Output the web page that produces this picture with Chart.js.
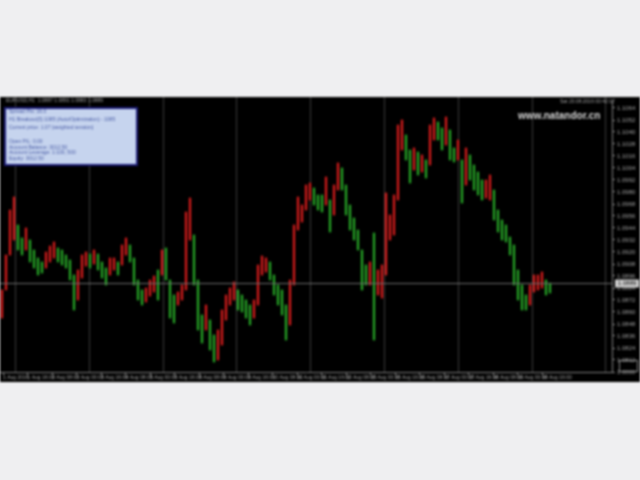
<!DOCTYPE html>
<html>
<head>
<meta charset="utf-8">
<script src="https://cdn.jsdelivr.net/npm/chart.js@4.4.1/dist/chart.umd.min.js"></script>
<style>
  html, body { margin: 0; padding: 0; background: #efeff1; }
  #wrap { position: absolute; left: 0; top: 97px; width: 640px; height: 285px; background: #000; filter: blur(0.9px); }
</style>
</head>
<body>
<div id="wrap"><canvas id="myChart"></canvas></div>
<script>
// candle ranges (EURUSD, H1)
const highs = [
  1.0882,1.0917,1.0962,1.0975,1.0947,1.0934,1.0944,1.0932,1.0922,1.0914,
  1.0910,1.0920,1.0926,1.0930,1.0924,1.0922,1.0917,1.0912,1.0897,1.0902,
  1.0917,1.0920,1.0918,1.0922,1.0918,1.0910,1.0904,1.0914,1.0914,1.0910,
  1.0927,1.0934,1.0927,1.0914,1.0892,1.0882,1.0884,1.0892,1.0896,1.0902,
  1.0922,1.0924,1.0892,1.0877,1.0880,1.0887,1.0960,1.0974,1.0937,1.0892,
  1.0857,1.0867,1.0852,1.0837,1.0842,1.0862,1.0877,1.0884,1.0890,1.0882,
  1.0877,1.0872,1.0867,1.0872,1.0907,1.0916,1.0914,1.0910,1.0897,1.0887,
  1.0882,1.0867,1.0892,1.0947,1.0975,1.0967,1.0987,1.0989,1.0984,1.0977,
  1.0977,1.0995,1.0972,1.0987,1.1009,1.1004,1.0987,1.0967,1.0954,1.0942,
  1.0922,1.0907,1.0910,1.0939,1.0902,1.0907,1.0979,1.0957,1.0977,1.1047,
  1.1052,1.1037,1.1022,1.1024,1.1020,1.1017,1.1012,1.1047,1.1054,1.1050,
  1.1044,1.1055,1.1042,1.1024,1.1032,1.1012,1.1024,1.1017,1.1007,1.1000,
  1.0992,1.0992,1.0997,1.0982,1.0962,1.0952,1.0947,1.0935,1.0927,1.0902,
  1.0887,1.0877,1.0887,1.0897,1.0897,1.0900,1.0892,1.0889
];
const lows = [
  1.0854,1.0882,1.0917,1.0932,1.0922,1.0917,1.0922,1.0910,1.0904,1.0897,
  1.0899,1.0904,1.0910,1.0914,1.0910,1.0907,1.0904,1.0892,1.0862,1.0872,
  1.0894,1.0906,1.0904,1.0908,1.0902,1.0894,1.0887,1.0897,1.0902,1.0897,
  1.0907,1.0917,1.0910,1.0887,1.0872,1.0867,1.0870,1.0876,1.0880,1.0872,
  1.0897,1.0892,1.0854,1.0849,1.0867,1.0872,1.0882,1.0932,1.0887,1.0842,
  1.0829,1.0842,1.0822,1.0810,1.0812,1.0827,1.0852,1.0867,1.0872,1.0862,
  1.0860,1.0854,1.0847,1.0854,1.0867,1.0897,1.0900,1.0892,1.0877,1.0867,
  1.0857,1.0832,1.0847,1.0887,1.0942,1.0950,1.0962,1.0972,1.0967,1.0962,
  1.0960,1.0967,1.0940,1.0957,1.0982,1.0982,1.0957,1.0942,1.0932,1.0922,
  1.0882,1.0887,1.0887,1.0832,1.0877,1.0874,1.0897,1.0932,1.0937,1.0972,
  1.1022,1.1012,1.0989,1.1002,1.0997,1.1000,1.0994,1.1007,1.1032,1.1032,
  1.1022,1.1027,1.1012,1.1010,1.1012,1.0969,1.0987,1.0992,1.0982,1.0977,
  1.0972,1.0974,1.0972,1.0952,1.0940,1.0932,1.0930,1.0917,1.0887,1.0872,
  1.0862,1.0862,1.0867,1.0880,1.0882,1.0884,1.0877,1.0879
];
const timeLabels = [
  '1 Aug 2016','1 Aug 16:00','2 Aug 08:00','3 Aug 00:00','3 Aug 16:00','4 Aug 08:00',
  '5 Aug 00:00','5 Aug 16:00','8 Aug 08:00','9 Aug 00:00','9 Aug 16:00','10 Aug 08:00',
  '11 Aug 00:00','11 Aug 16:00','12 Aug 08:00','15 Aug 00:00','15 Aug 16:00','16 Aug 08:00',
  '17 Aug 00:00','17 Aug 16:00','18 Aug 08:00','19 Aug 00:00','19 Aug 16:00'
];
const bidPrice = 1.0889;
const infoLines = [
  'Spread Pts: 16.0',
  'H1 Breakout(5) 1085 (Auto/Optimization) - 1085',
  'Current price: 1.07 (weighted session)',
  '',
  'Open P/L: 0.00',
  'Account Balance: 3012.50',
  'Account Leverage: 1:100, 500',
  'Equity: 3012.50'
];

const mids = highs.map((h, i) => (h + lows[i]) / 2);
const colors = mids.map((m, i) => (i > 0 && m < mids[i - 1]) ? '#26a826' : '#d81c1c');

const overlay = {
  id: 'overlay',
  beforeDatasetsDraw(chart) {
    const { ctx, chartArea: a, scales: { x } } = chart;
    ctx.save();
    ctx.strokeStyle = '#3c3c3c';
    ctx.lineWidth = 1;
    for (let v = 3.25; v <= x.max; v += 18.45) {
      const px = Math.round(x.getPixelForValue(v)) + 0.5;
      ctx.beginPath(); ctx.moveTo(px, 0); ctx.lineTo(px, a.bottom); ctx.stroke();
    }
    ctx.restore();
  },
  afterDatasetsDraw(chart) {
    const { ctx, chartArea: a, scales: { y } } = chart;
    ctx.save();
    // bid line
    const py = Math.round(y.getPixelForValue(bidPrice)) + 0.5;
    ctx.strokeStyle = '#6e6e6e';
    ctx.beginPath(); ctx.moveTo(0, py); ctx.lineTo(a.right, py); ctx.stroke();
    ctx.fillStyle = '#d0d0d0';
    ctx.fillRect(a.right + 3, py - 4, 24, 8);
    ctx.fillStyle = '#000';
    ctx.font = '6px "Liberation Sans"';
    ctx.textBaseline = 'middle';
    ctx.fillText(bidPrice.toFixed(4), a.right + 6, py);

    // header texts
    ctx.fillStyle = '#a0a0a0';
    ctx.font = '5px "Liberation Sans"';
    ctx.fillText('EURUSD,H1  1.0887 1.0891 1.0883 1.0889', 6, 4);
    ctx.fillText('Sat 20.08.2016 00:42:17', 560, 5);

    // info panel
    ctx.fillStyle = '#c6d4ee';
    ctx.fillRect(5, 11, 132, 57);
    ctx.strokeStyle = '#1c1c78';
    ctx.lineWidth = 2;
    ctx.strokeRect(5, 11, 132, 57);
    ctx.fillStyle = '#4a5ca6';
    ctx.font = '5px "Liberation Sans"';
    const ys = [15, 23, 31, 39, 45, 51, 56, 62];
    infoLines.forEach((t, i) => ctx.fillText(t, 9, ys[i]));

    // watermark
    ctx.fillStyle = '#d8d8d8';
    ctx.font = 'bold 10px "Liberation Sans"';
    ctx.fillText('www.natandor.cn', 518, 19);

    // shift marker bottom right
    ctx.strokeStyle = '#8a8a8a';
    ctx.lineWidth = 1;
    ctx.strokeRect(619.5, 263.5, 18, 11);
    ctx.restore();
  }
};

const ctx = document.getElementById('myChart');

new Chart(ctx, {
  type: 'bar',
  data: {
    datasets: [{
      data: highs.map((h, i) => ({ x: i, y: [lows[i], h] })),
      backgroundColor: colors,
      barThickness: 1.6,
      borderWidth: 0
    }]
  },
  options: {
    responsive: true,
    maintainAspectRatio: false,
    animation: false,
    layout: { padding: { top: 3, left: 0, right: 0, bottom: 0 } },
    plugins: { legend: { display: false }, tooltip: { enabled: false } },
    scales: {
      x: {
        type: 'linear',
        offset: false,
        min: -0.5,
        max: 152.5,
        afterBuildTicks: s => { s.ticks = timeLabels.map((t, k) => ({ value: 0.25 + k * 6.125 })); },
        afterFit: s => { s.height = 10; s.paddingLeft = 0; s.paddingRight = 0; },
        grid: { offset: false, drawOnChartArea: false, drawTicks: true, tickLength: 3, color: '#808080' },
        border: { color: '#808080' },
        ticks: {
          autoSkip: false,
          maxRotation: 0,
          align: 'start',
          padding: 0,
          color: '#a0a0a0',
          font: { size: 5, family: 'Liberation Sans' },
          callback: (v, i) => timeLabels[i]
        }
      },
      y: {
        position: 'right',
        min: 1.0800,
        max: 1.1072,
        afterBuildTicks: s => {
          s.ticks = [];
          for (let k = 0; k <= 22; k++) s.ticks.push({ value: 1.08 + k * 0.0012 });
        },
        afterFit: s => { s.width = 28; s.paddingTop = 0; s.paddingBottom = 0; },
        grid: { drawOnChartArea: false, drawTicks: true, tickLength: 3, color: '#808080' },
        border: { color: '#808080' },
        ticks: {
          padding: 2,
          color: '#a0a0a0',
          font: { size: 6, family: 'Liberation Sans' },
          callback: v => v.toFixed(4)
        }
      }
    }
  },
  plugins: [overlay]
});
</script>
</body>
</html>
